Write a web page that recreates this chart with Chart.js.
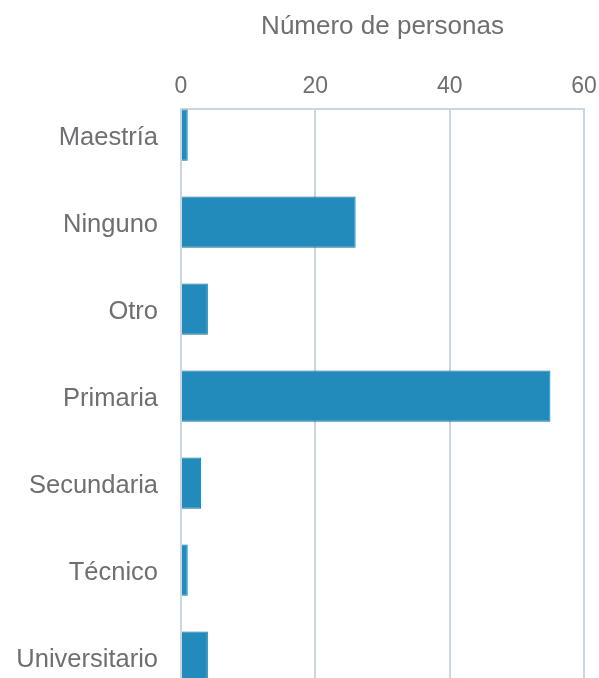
<!DOCTYPE html>
<html>
<head>
<meta charset="utf-8">
<script src="https://cdn.jsdelivr.net/npm/chart.js"></script>
<style>
  html, body { margin: 0; padding: 0; background: #fff; }
  #wrap { width: 599px; height: 678px; }
</style>
</head>
<body>
<div id="wrap"><canvas id="chart" width="599" height="678"></canvas></div>
<script>
const categories = ['Maestría', 'Ninguno', 'Otro', 'Primaria', 'Secundaria', 'Técnico', 'Universitario'];
const personas = [1, 26, 4, 55, 3, 1, 4];
const xTicks = [0, 20, 40, 60];

const textColor = '#6f6f73';
const gridColor = '#c9d5e0';
const family = '"Liberation Sans", Arial, sans-serif';

const ctx = document.getElementById('chart').getContext('2d');
new Chart(ctx, {
  type: 'bar',
  data: {
    datasets: [{
      label: 'Número de personas',
      data: personas.map((v, i) => ({ x: v, y: i })),
      backgroundColor: '#238bbb',
      borderColor: '#1d6f96',
      borderWidth: 1,
      categoryPercentage: 1,
      barPercentage: 0.59,
    }],
  },
  options: {
    indexAxis: 'y',
    responsive: false,
    animation: false,
    layout: { padding: { left: 0, right: 15, top: 0, bottom: 0 } },
    plugins: { legend: { display: false }, tooltip: { enabled: false } },
    scales: {
      x: {
        type: 'linear',
        position: 'top',
        min: 0,
        max: 60,
        afterBuildTicks: axis => { axis.ticks = xTicks.map(v => ({ value: v })); },
        afterFit: scale => {
          scale.height = 109;
          scale.paddingLeft = 0;
          scale.paddingRight = 0;
        },
        grid: { color: gridColor, lineWidth: 2, drawTicks: false },
        border: { color: gridColor, width: 2 },
        ticks: {
          color: textColor,
          padding: 9,
          font: { family: family, size: 23 },
        },
        title: {
          display: true,
          text: 'Número de personas',
          color: textColor,
          padding: { top: 11, bottom: 0 },
          font: { family: family, size: 26 },
        },
      },
      y: {
        type: 'linear',
        reverse: true,
        offset: false,
        bounds: 'data',
        min: -0.3,
        max: 6.24,
        afterBuildTicks: axis => { axis.ticks = categories.map((c, i) => ({ value: i })); },
        afterFit: scale => {
          scale.width = 181;
          scale.paddingTop = 0;
          scale.paddingBottom = 0;
        },
        grid: { display: false, drawTicks: false, offset: false },
        border: { display: false },
        ticks: {
          color: textColor,
          padding: 23,
          labelOffset: 3,
          autoSkip: false,
          callback: v => categories[v],
          font: { family: family, size: 25.5 },
        },
      },
    },
  },
});
</script>
</body>
</html>
